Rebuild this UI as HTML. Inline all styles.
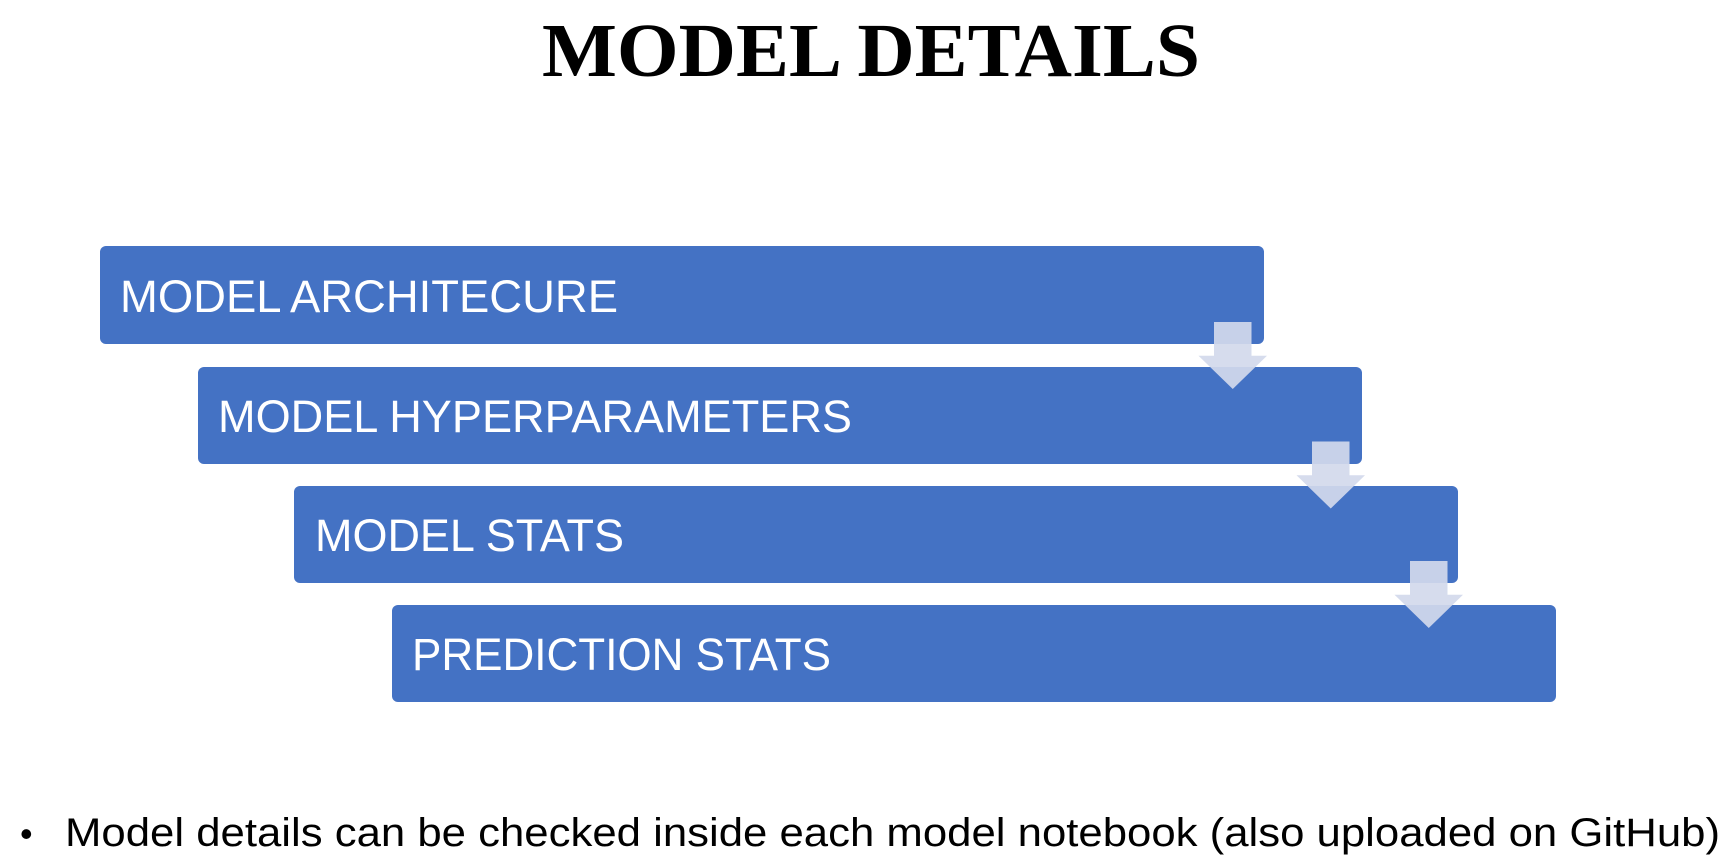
<!DOCTYPE html>
<html><head><meta charset="utf-8"><style>
html,body{margin:0;padding:0;background:#fff;}
svg{display:block}
</style></head><body>
<svg width="1732" height="866" viewBox="0 0 1732 866" xmlns="http://www.w3.org/2000/svg">
<text x="871" y="76" text-anchor="middle" font-family="Liberation Serif, serif" font-weight="bold" font-size="76" textLength="658" lengthAdjust="spacingAndGlyphs">MODEL DETAILS</text>
<g fill="#4472c4">
<rect x="100" y="246" width="1164" height="98" rx="6"/>
<rect x="198" y="367" width="1164" height="97" rx="6"/>
<rect x="294" y="486" width="1164" height="97" rx="6"/>
<rect x="392" y="605" width="1164" height="97" rx="6"/>
</g>
<g fill="#fff" font-family="Liberation Sans, sans-serif" font-size="45">
<text x="120" y="312" textLength="498" lengthAdjust="spacingAndGlyphs">MODEL ARCHITECURE</text>
<text x="218" y="432" textLength="634" lengthAdjust="spacingAndGlyphs">MODEL HYPERPARAMETERS</text>
<text x="315" y="551" textLength="309" lengthAdjust="spacingAndGlyphs">MODEL STATS</text>
<text x="412" y="670" textLength="419" lengthAdjust="spacingAndGlyphs">PREDICTION STATS</text>
</g>
<g fill="#d3d9ec" fill-opacity="0.92">
<path d="M1214 322h37.5v33.7h15.5l-34.25 33.3l-34.25-33.3h15.5z"/>
<path d="M1312 441.5h37.5v33.7h15.5l-34.25 33.3l-34.25-33.3h15.5z"/>
<path d="M1410 561h37.5v33.7h15.5l-34.25 33.3l-34.25-33.3h15.5z"/>
</g>
<text x="20" y="846" font-family="Liberation Sans, sans-serif" font-size="36">•</text>
<text x="65" y="846" font-family="Liberation Sans, sans-serif" font-size="40" textLength="1655" lengthAdjust="spacingAndGlyphs">Model details can be checked inside each model notebook (also uploaded on GitHub)</text>
</svg>
</body></html>
